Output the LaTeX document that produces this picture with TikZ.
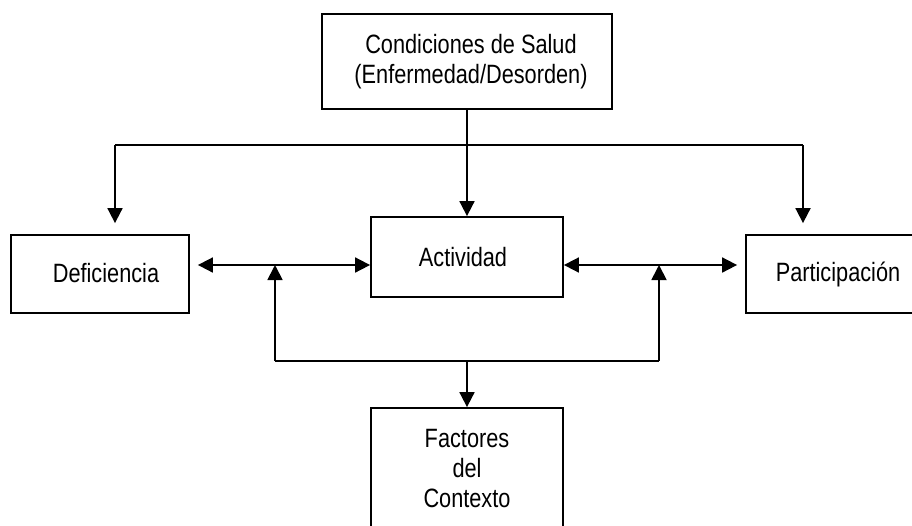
\documentclass[tikz,border=0pt]{standalone}
\usepackage{fontspec}
\setmainfont{Liberation Sans}[FakeStretch=0.82]
\usetikzlibrary{arrows.meta}
\begin{document}
\begin{tikzpicture}[x=1pt,y=-1pt,
  box/.style={draw,line width=1.8pt,rectangle,inner sep=0pt,align=center,
    font=\fontsize{26.5}{30}\selectfont},
  conn/.style={line width=1.8pt},
  arr/.style={conn,-{Triangle[length=15pt,width=15pt]}},
  arrb/.style={conn,{Triangle[length=15pt,width=15pt]}-{Triangle[length=15pt,width=15pt]}}]
\useasboundingbox (0,0) rectangle (912,525);
\clip (0,0) rectangle (912,525);
\node[box,minimum width=290pt,minimum height=95pt] (top) at (467,61.5)
  {\hspace*{8pt}Condiciones de Salud\\\hspace*{8pt}(Enfermedad/Desorden)};
\node[box,minimum width=178pt,minimum height=78pt] (def) at (100,274) {\raisebox{3pt}{\hspace*{12pt}Deficiencia}};
\node[box,minimum width=192pt,minimum height=80pt] (act) at (467,257) {\hspace*{-8pt}Actividad};
\node[box,minimum width=184pt,minimum height=78pt] (par) at (838,274) {\raisebox{3pt}{Participación}};
\node[box,minimum width=192pt,minimum height=122pt] (fac) at (467,469) {Factores\\del\\Contexto};
\coordinate (tl) at (115,145);
\coordinate (tr) at (803,145);
\coordinate (ym) at (0,265);
\coordinate (bl) at (275,361);
\coordinate (br) at (659,361);
\coordinate (bm) at (467,361);
\draw[arr] (top.south) -- (act.north);
\draw[conn] (tl) -- (tr);
\draw[arr,shorten >=11pt] (tl) -- (tl |- def.north);
\draw[arr,shorten >=11pt] (tr) -- (tr |- par.north);
\draw[arrb,shorten <=8pt] (def.east |- ym) -- (act.west |- ym);
\draw[arrb,shorten >=8pt] (act.east |- ym) -- (par.west |- ym);
\draw[conn] (bl) -- (br);
\draw[arr] (bl) -- (bl |- ym);
\draw[arr] (br) -- (br |- ym);
\draw[arr] (bm) -- (fac.north);
\end{tikzpicture}
\end{document}
